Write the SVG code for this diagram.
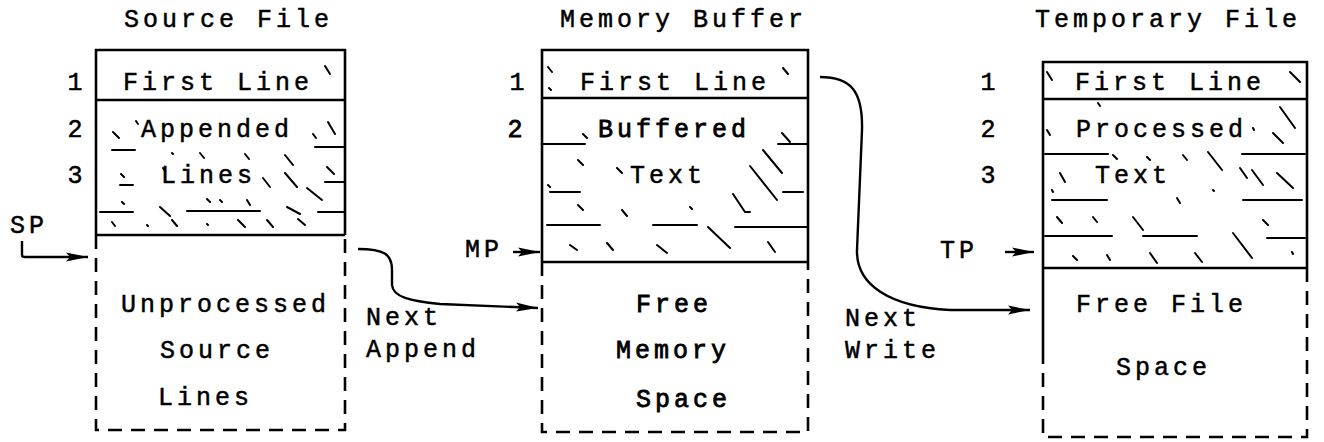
<svg xmlns="http://www.w3.org/2000/svg" width="1324" height="442" viewBox="0 0 1324 442">
<defs>
<style>
.t{font-family:"Liberation Mono","DejaVu Sans Mono",monospace;font-size:25px;letter-spacing:4px;fill:#000;stroke:#000;stroke-width:0.5}
.n{font-family:"Liberation Mono","DejaVu Sans Mono",monospace;font-size:25px;text-anchor:middle;fill:#000;stroke:#000;stroke-width:0.5}
.k{stroke-width:0.8}
.b{fill:none;stroke:#000;stroke-width:2.6}
.d{fill:none;stroke:#000;stroke-width:2.6;stroke-dasharray:14 9}
.h{fill:none;stroke:#000;stroke-width:2;stroke-linecap:round}
.c{fill:none;stroke:#000;stroke-width:2.4}
</style>
<marker id="ah" markerUnits="userSpaceOnUse" viewBox="0 0 22 12" refX="22" refY="6" markerWidth="22" markerHeight="12" orient="auto">
<path d="M0,1.5 L22,6 L0,10.5 L4,6 z" fill="#000"/>
</marker>
</defs>
<rect width="1324" height="442" fill="#fff"/>

<g id="source-file">
<text class="t" x="124" y="27">Source File</text>
<path class="b" d="M96,235 L96,50 L345,50 L345,235 M96,100 L345,100 M96,235 L345,235"/>
<path class="d" d="M96,235 L96,430 L345,430 L345,235"/>
<text class="n" x="75" y="90">1</text>
<text class="n" x="75" y="137">2</text>
<text class="n" x="75" y="183">3</text>
<text class="t" x="123" y="90">First Line</text>
<text class="t" x="141" y="137">Appended</text>
<text class="t" x="161" y="183">Lines</text>
<text class="t" x="121" y="312">Unprocessed</text>
<text class="t" x="160" y="358">Source</text>
<text class="t" x="158" y="405">Lines</text>
<path class="h" d="M325,66 L330,74 M113,132 L119,138 M136,121 L138,124 M313,134 L316,138 M328,122 L335,134 M112,150 L135,150 M315,147 L345,147 M200,153 L204,158 M245,154 L249,159 M285,155 L293,165 M327,167 L334,174 M172,153 L173,154 M121,174 L124,177 M120,185 L133,185 M163,168 L165,171 M263,178 L270,187 M285,173 L297,187 M307,188 L322,200 M325,182 L345,182 M100,212 L133,212 M187,211 L260,211 M318,212 L345,212 M122,202 L124,204 M160,207 L170,216 M207,199 L210,202 M220,200 L222,202 M247,200 L250,205 M287,207 L300,214 M112,222 L115,226 M147,225 L148,226 M172,220 L177,226 M207,224 L208,225 M238,220 L245,227 M267,220 L273,227 M298,219 L305,225"/>
</g>

<g id="memory-buffer">
<text class="t" x="560" y="27">Memory Buffer</text>
<path class="b" d="M542,262 L542,50 L808,50 L808,262 M542,98 L808,98 M542,262 L808,262"/>
<path class="d" d="M542,262 L542,432 L808,432 L808,262"/>
<text class="n" x="517" y="90">1</text>
<text class="n k" x="515" y="137">2</text>
<text class="t" x="580" y="90">First Line</text>
<text class="t k" x="598" y="137">Buffered</text>
<text class="t" x="630" y="183">Text</text>
<text class="t k" x="636" y="312">Free</text>
<text class="t k" x="616" y="358">Memory</text>
<text class="t k" x="636" y="407">Space</text>
<path class="h" d="M548,67 L552,72 M549,88 L551,90 M783,68 L788,74 M583,134 L587,138 M782,133 L790,142 M543,144 L585,144 M778,144 L808,144 M578,160 L583,165 M617,168 L622,173 M763,150 L782,173 M750,166 L777,200 M548,185 L550,187 M550,192 L580,192 M783,192 L803,192 M578,205 L583,210 M622,210 L627,216 M690,207 L692,209 M733,194 L745,212 L750,212 M547,225 L600,225 M653,225 L697,225 M735,227 L807,227 M570,245 L577,250 M607,243 L613,250 M657,245 L667,253 M708,227 L730,248 M768,242 L775,252"/>
</g>

<g id="temporary-file">
<text class="t" x="1035" y="27">Temporary File</text>
<path class="b" d="M1043,350 L1043,62 L1307,62 L1307,268 M1043,99 L1307,99 M1043,268 L1307,268"/>
<path class="d" d="M1043,350 L1043,437 L1307,437 L1307,268"/>
<text class="n" x="988" y="90">1</text>
<text class="n" x="988" y="137">2</text>
<text class="n" x="988" y="183">3</text>
<text class="t" x="1075" y="90">First Line</text>
<text class="t" x="1076" y="137">Processed</text>
<text class="t" x="1095" y="183">Text</text>
<text class="t" x="1076" y="312">Free File</text>
<text class="t" x="1116" y="375">Space</text>
<path class="h" d="M1047,72 L1052,80 M1290,72 L1300,82 M1047,130 L1050,135 M1253,128 L1254,130 M1280,107 L1295,128 M1273,133 L1283,143 M1098,103 L1100,106 M1045,154 L1108,154 M1242,154 L1305,154 M1113,155 L1117,159 M1147,157 L1150,160 M1183,155 L1187,160 M1208,152 L1222,170 M1060,173 L1065,182 M1052,190 L1053,192 M1240,168 L1247,178 M1252,170 L1263,185 M1277,173 L1293,188 M1052,200 L1107,200 M1243,200 L1302,200 M1177,198 L1180,203 M1213,190 L1214,191 M1057,217 L1062,223 M1093,217 L1097,222 M1133,217 L1143,230 M1263,220 L1268,225 M1045,236 L1112,236 M1143,236 L1197,236 M1267,238 L1305,238 M1073,256 L1077,260 M1107,255 L1110,260 M1150,253 L1157,263 M1195,253 L1202,262 M1233,233 L1252,258 M1292,252 L1293,254"/>
</g>

<g id="pointers">
<text class="t" x="10" y="233">SP</text>
<text class="t" x="465" y="257">MP</text>
<text class="t" x="940" y="258">TP</text>
</g>

<g id="connectors">
<path class="c" d="M22,241 L22,255 Q22,257 25,257 L88,257" marker-end="url(#ah)"/>
<path class="c" d="M513,252 L540,252" marker-end="url(#ah)"/>
<path class="c" d="M1005,252 L1034,252" marker-end="url(#ah)"/>
<path class="c" d="M358,249 C384,249 392,254 392,270 L392,285 C393,297 410,301 440,304 L538,308" marker-end="url(#ah)"/>
<path class="c" d="M820,77 C850,77 863,90 862,130 L857,250 C856,285 890,307 950,310 L1030,310" marker-end="url(#ah)"/>
<text class="t" x="366" y="325">Next</text>
<text class="t" x="366" y="357">Append</text>
<text class="t" x="845" y="326">Next</text>
<text class="t" x="845" y="358">Write</text>
</g>
</svg>
